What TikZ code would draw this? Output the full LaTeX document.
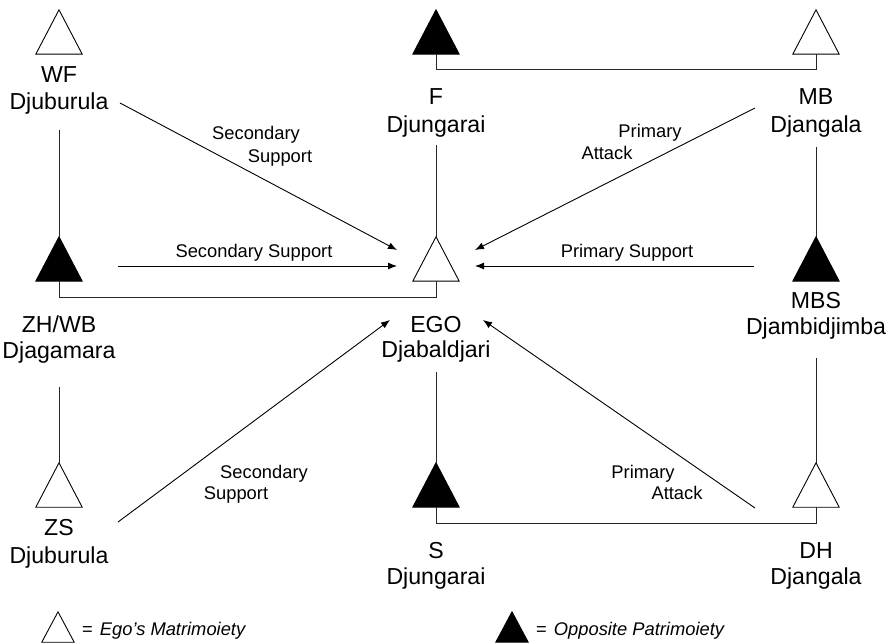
\documentclass[tikz,border=0pt]{standalone}
\usepackage{fontspec}
\setmainfont{Liberation Sans}
\usetikzlibrary{arrows.meta}
\begin{document}
\begin{tikzpicture}[x=1bp,y=-1bp,
  big/.style={anchor=base,inner sep=0pt,font=\fontsize{23.2}{26}\selectfont},
  small/.style={anchor=base,inner sep=0pt,font=\fontsize{18.4}{22}\selectfont},
  legend/.style={anchor=base west,inner sep=0pt,font=\fontsize{18.4}{22}\selectfont},
  tribox/.style={rectangle,draw=none,inner sep=0pt,minimum width=46bp,minimum height=44bp},
  legbox/.style={rectangle,draw=none,inner sep=0pt,minimum width=32bp,minimum height=30bp},
  trishape/.style={draw=black,line width=0.9bp,line join=miter},
  link/.style={draw=black!85,line width=0.9bp},
  arr/.style={draw=black,line width=0.9bp,-{Latex[length=9bp,width=7bp]}}]
\useasboundingbox (0,0) rectangle (896,644);
\fill[white] (0,0) rectangle (896,644);

% triangles
\node[tribox] (wf)  at (59,32)  {};
\node[tribox] (f)   at (436,32) {};
\node[tribox] (mb)  at (816,32) {};
\node[tribox] (zh)  at (59,259) {};
\node[tribox] (ego) at (436,259) {};
\node[tribox] (mbs) at (816,259) {};
\node[tribox] (zs)  at (59,485) {};
\node[tribox] (s)   at (436,485) {};
\node[tribox] (dh)  at (816,485) {};
\node[legbox] (lego) at (58,627) {};
\node[legbox] (legf) at (512,627) {};

\foreach \n in {wf,mb,ego,zs,dh,lego}
  \draw[trishape,fill=white] (\n.north) -- (\n.south east) -- (\n.south west) -- cycle;
\foreach \n in {f,zh,mbs,s,legf}
  \draw[trishape,fill=black] (\n.north) -- (\n.south east) -- (\n.south west) -- cycle;

% kin labels
\node[big] (wf1) at (59,83) {WF};
\node[big] (wf2) at (59,110) {Djuburula};
\node[big] (f1) at (436,105) {F};
\node[big] (f2) at (436,133) {Djungarai};
\node[big] (mb1) at (816,105) {MB};
\node[big] (mb2) at (816,133) {Djangala};
\node[big] (zh1) at (59,332) {ZH/WB};
\node[big] (zh2) at (59,358) {Djagamara};
\node[big] (ego1) at (436,332) {EGO};
\node[big] (ego2) at (436,357) {Djabaldjari};
\node[big] (mbs1) at (816,308) {MBS};
\node[big] (mbs2) at (816,334) {Djambidjimba};
\node[big] (zs1) at (59,535) {ZS};
\node[big] (zs2) at (59,563) {Djuburula};
\node[big] (s1) at (436,558) {S};
\node[big] (s2) at (436,584) {Djungarai};
\node[big] (dh1) at (816,558) {DH};
\node[big] (dh2) at (816,584) {Djangala};

% arrow labels
\node[small] (l1a) at (256,140) {Secondary};
\node[small] (l1b) at (280,163) {Support};
\node[small] (l2a) at (650,138) {Primary};
\node[small] (l2b) at (607,160) {Attack};
\node[small] (l3) at (254,258) {Secondary Support};
\node[small] (l4) at (627,258) {Primary Support};
\node[small] (l5a) at (264,478) {Secondary};
\node[small] (l5b) at (236,499) {Support};
\node[small] (l6a) at (643,478) {Primary};
\node[small] (l6b) at (677,499) {Attack};

% legend labels
\node[legend] (leg1) at (82,635) {=\hspace{7bp}\itshape Ego's Matrimoiety};
\node[legend] (leg2) at (536,635) {=\hspace{7bp}\itshape Opposite Patrimoiety};

% descent / marriage links
\coordinate (fl) at (436,145);
\coordinate (wfl) at (59,130);
\coordinate (mbl) at (816,147);
\coordinate (zhl) at (59,387);
\coordinate (egol) at (436,372);
\coordinate (mbsl) at (816,358);
\draw[link] (fl) -- (ego.north);
\draw[link] (wfl) -- (zh.north);
\draw[link] (mbl) -- (mbs.north);
\draw[link] (zhl) -- (zs.north);
\draw[link] (egol) -- (s.north);
\draw[link] (mbsl) -- (dh.north);

\draw[link] (f.south) -- ++(0,15) -| (mb.south);
\draw[link] (ego.south) -- ++(0,16) -| (zh.south);
\draw[link] (s.south) -- ++(0,16) -| (dh.south);

% arrows
\coordinate (a1s) at (120,103);  \coordinate (a1e) at (397,250);
\coordinate (a2s) at (118,266);  \coordinate (a2e) at (397,266);
\coordinate (a3s) at (755,108);  \coordinate (a3e) at (475,250);
\coordinate (a4s) at (754,266);  \coordinate (a4e) at (475,266);
\coordinate (a5s) at (118,522);  \coordinate (a5e) at (390,320);
\coordinate (a6s) at (755,508);  \coordinate (a6e) at (483,320);
\draw[arr] (a1s) -- (a1e);
\draw[arr] (a2s) -- (a2e);
\draw[arr] (a3s) -- (a3e);
\draw[arr] (a4s) -- (a4e);
\draw[arr] (a5s) -- (a5e);
\draw[arr] (a6s) -- (a6e);
\end{tikzpicture}
\end{document}
